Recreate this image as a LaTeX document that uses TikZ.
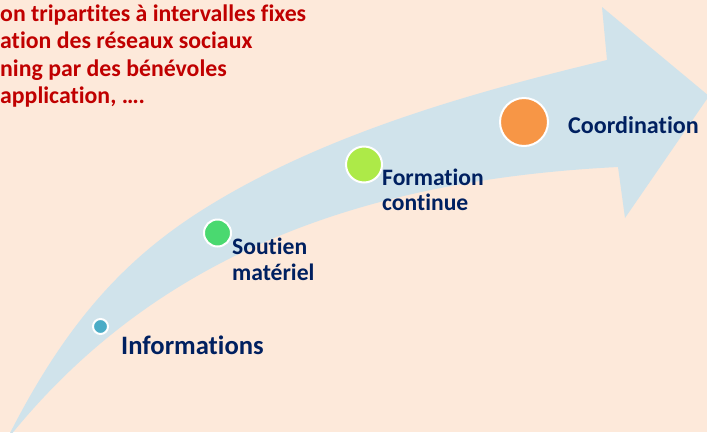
\documentclass[tikz,border=0pt]{standalone}
\usepackage{fontspec}
\setmainfont{Carlito}[Ligatures=NoCommon]
\definecolor{bgpeach}{RGB}{253,233,218}
\definecolor{arrowblue}{RGB}{208,227,235}
\definecolor{navytext}{RGB}{0,32,96}
\definecolor{redtext}{RGB}{192,0,0}
\definecolor{cinfo}{RGB}{75,172,198}
\definecolor{csout}{RGB}{74,217,112}
\definecolor{cform}{RGB}{173,234,72}
\definecolor{ccoord}{RGB}{247,150,70}
\tikzset{
  dot/.style={circle, draw=white, line width=2pt, inner sep=0pt},
  lbl/.style={anchor=base west, inner sep=0pt, text=navytext, font=\bfseries\fontsize{23.6}{28}\selectfont},
  redline/.style={anchor=base west, inner sep=0pt, text=redtext, font=\bfseries\fontsize{23.8}{28}\selectfont}
}
\begin{document}
\begin{tikzpicture}[x=1pt,y=-1pt]
\useasboundingbox (0,0) rectangle (707,432);
\clip (0,0) rectangle (707,432);
\fill[bgpeach] (0,0) rectangle (707,432);
% arrow
\fill[arrowblue] (6,441) .. controls (66,321) and (127,256.6) .. (207,207)
  .. controls (327,132.6) and (477,91.2) .. (607,60)
  -- (602,7) -- (709,96) -- (625,218) -- (618,167)
  .. controls (368,179.5) and (156,252) .. (6,441) -- cycle;
% red text
\node[redline] (r1) at (0,21) {on tripartites à intervalles fixes};
\node[redline] (r2) at (0,48.5) {ation des réseaux sociaux};
\node[redline] (r3) at (0,76) {ning par des bénévoles};
\node[redline] (r4) at (0,103.5) {application, ….};
% dots
\node[dot, fill=cinfo, minimum size=15pt] (d1) at (100.5,326.5) {};
\node[dot, fill=csout, minimum size=27pt] (d2) at (217.5,233) {};
\node[dot, fill=cform, minimum size=36pt] (d3) at (364,164.5) {};
\node[dot, fill=ccoord, minimum size=48pt] (d4) at (524,122) {};
% labels
\node[lbl, font=\bfseries\fontsize{26.6}{30}\selectfont] (t1) at (121,354) {Informations};
\node[lbl] (t2a) at (232,254) {Soutien};
\node[lbl] (t2b) at (232,280) {matériel};
\node[lbl] (t3a) at (382,185) {Formation};
\node[lbl] (t3b) at (382,210) {continue};
\node[lbl, font=\bfseries\fontsize{24.1}{29}\selectfont] (t4) at (568,133) {Coordination};
\end{tikzpicture}
\end{document}
